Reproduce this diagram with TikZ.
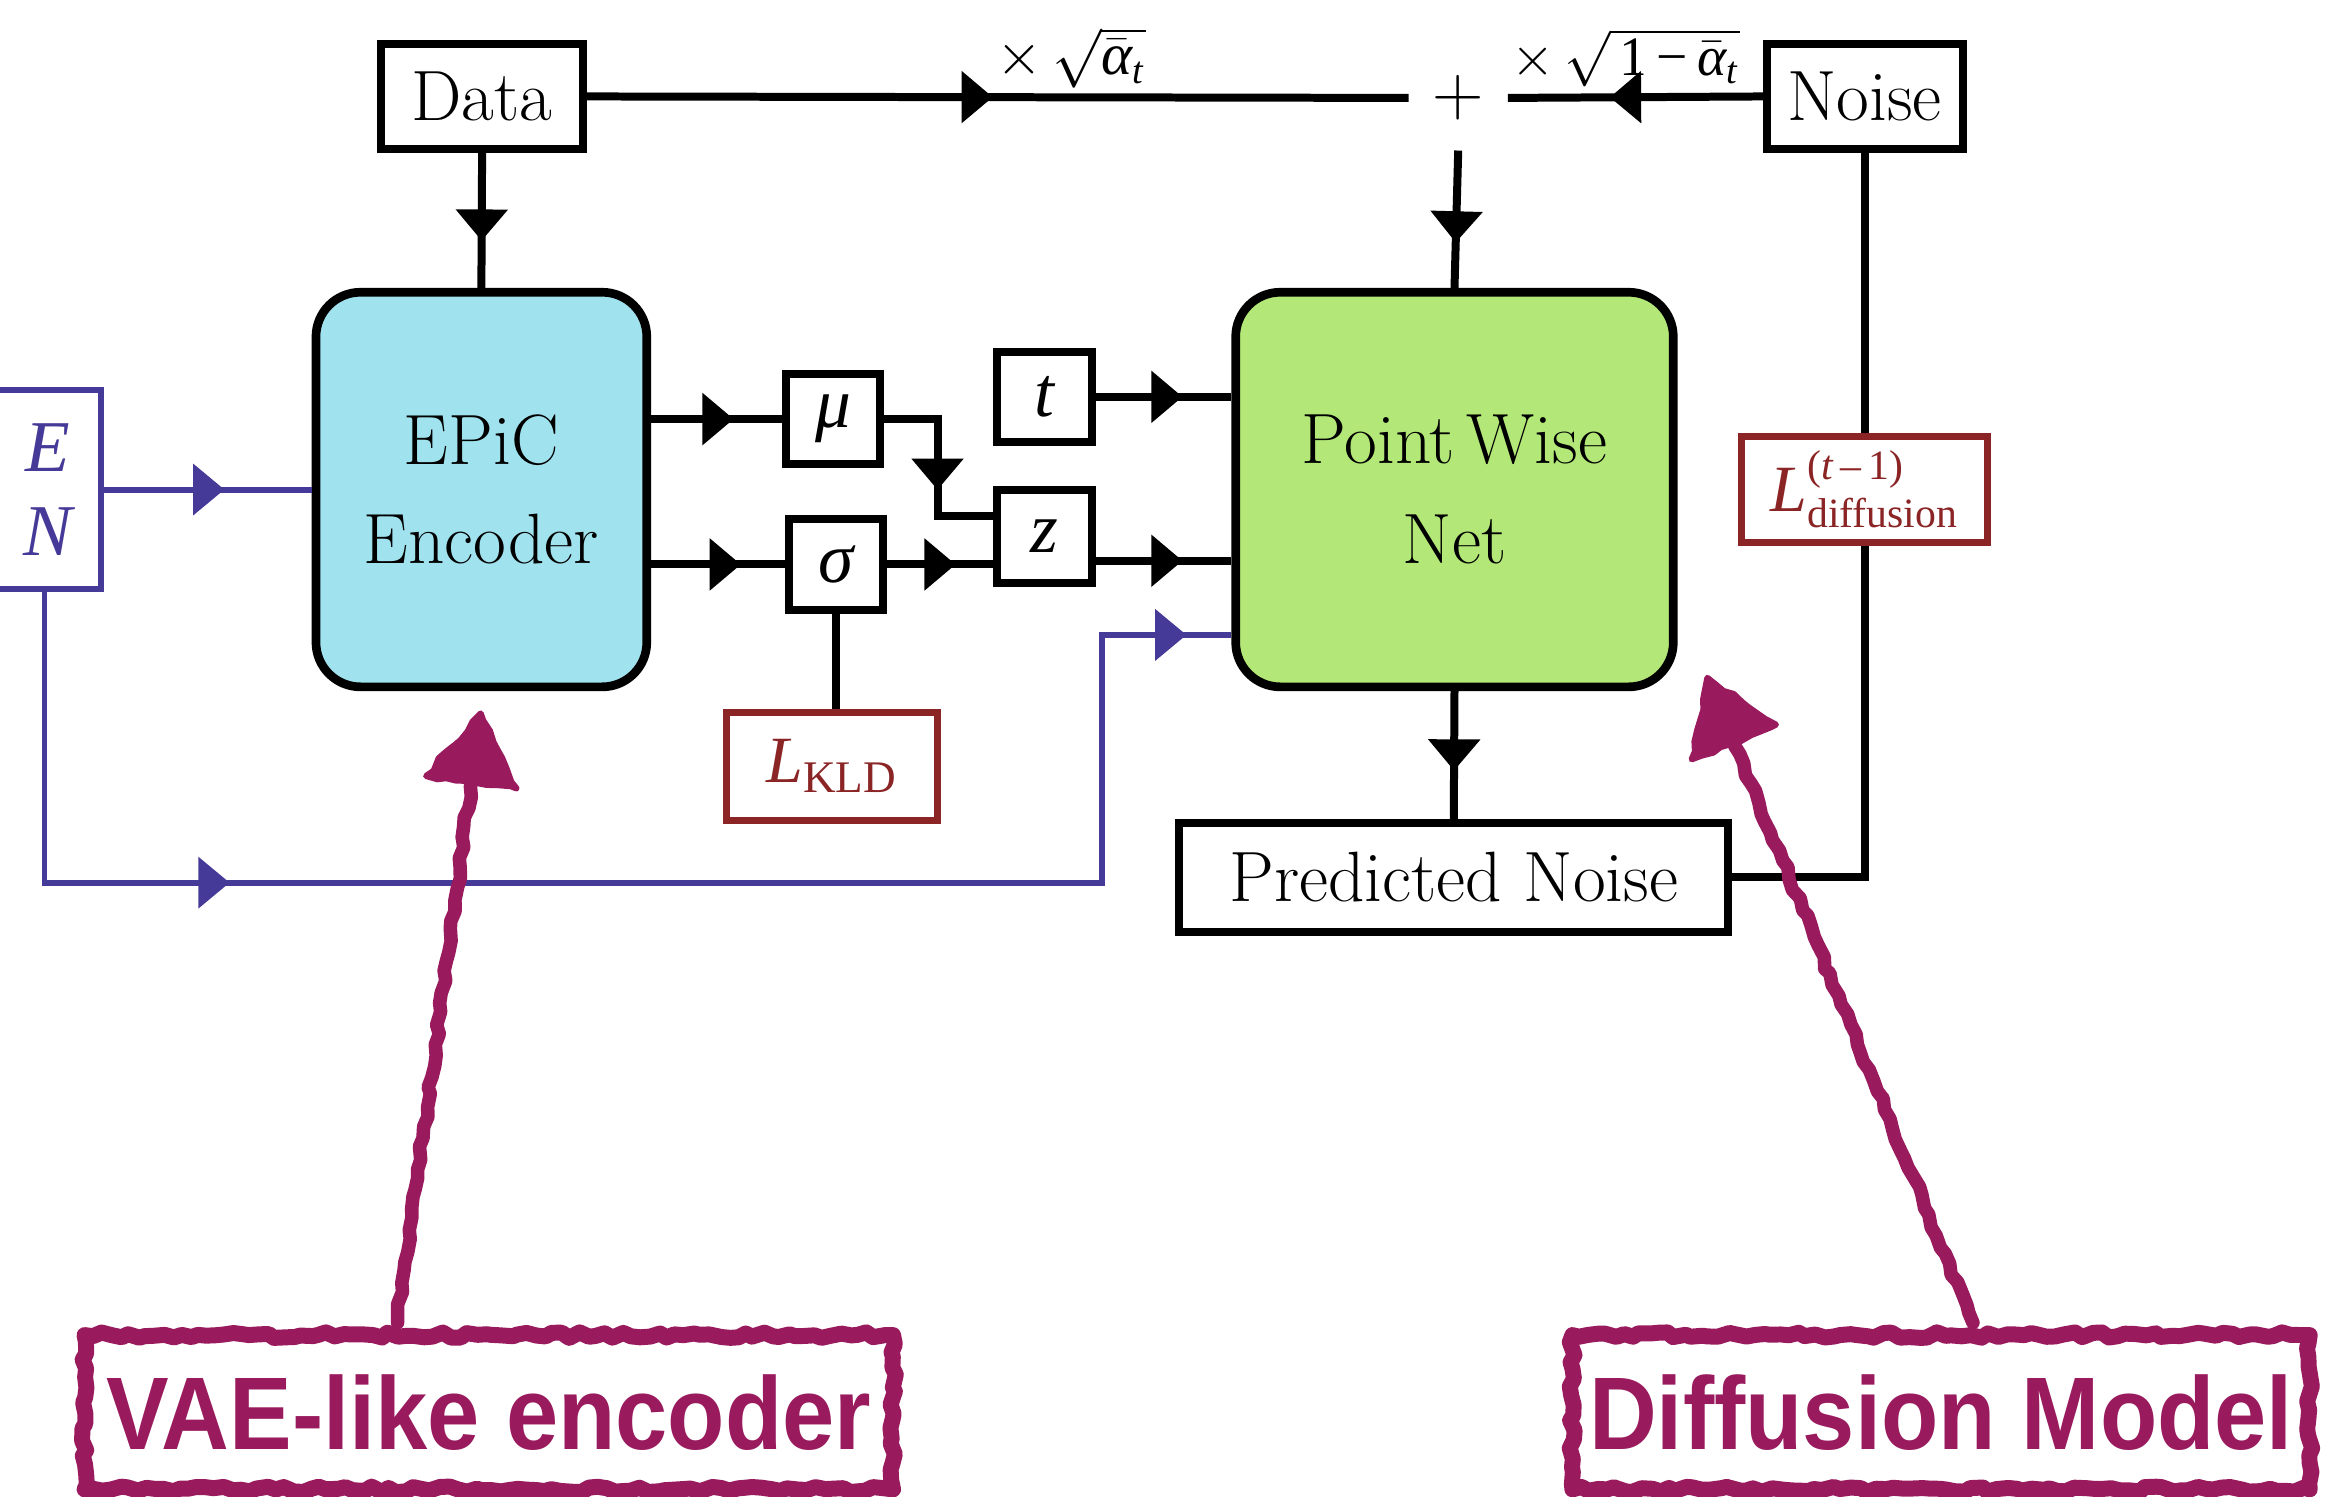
\RequirePackage{fix-cm}
\documentclass[tikz,border=0pt]{standalone}
\usepackage{amsmath}
\usepackage{fontspec}
\newfontfamily\annfont{Liberation Sans}
\newfontfamily\tms{Liberation Serif}
\usetikzlibrary{arrows.meta,decorations.markings,decorations.pathmorphing,calc}

\definecolor{encfill}{HTML}{A0E3EF}
\definecolor{netfill}{HTML}{B3E878}
\definecolor{condblue}{HTML}{463A98}
\definecolor{lossred}{HTML}{8B2525}
\definecolor{annmag}{HTML}{9A1A5E}

% italic symbols and small indices in a Times-like face
\newcommand{\sym}[1]{{\tms\itshape #1}}
\newcommand{\lil}[1]{\mbox{\fontsize{12}{12}\selectfont\tms #1}}
\newcommand{\lilx}[1]{\mbox{\fontsize{13}{13}\selectfont\tms #1}}
\newcommand{\tinyidx}[1]{\mbox{\fontsize{11}{11}\selectfont\tms #1}}

\tikzset{
  every node/.style={font=\fontsize{20.5}{28.6}\selectfont},
  sz/.style 2 args={minimum width=#1*0.015cm, minimum height=#2*0.015cm},
  blk/.style={draw, line width=2.3pt, fill=white, inner sep=0pt, align=center},
  netbox/.style={draw, line width=2.5pt, rounded corners=0.45cm, inner sep=0pt, align=center},
  lossbox/.style={draw=lossred, text=lossred, line width=2pt, fill=white, inner sep=0pt,
      font=\fontsize{19}{22}\selectfont},
  wire/.style={line width=2.3pt},
  condwire/.style={draw=condblue, line width=1.7pt},
  tipmark/.style={postaction={decorate, decoration={markings,
      mark=at position #1 with {\arrow{Triangle[length=9pt,width=14.5pt]}}}}},
  annbox/.style={draw=annmag, line width=4.6pt, fill=white, text=annmag, line join=round,
      font=\annfont\bfseries\fontsize{27}{30}\selectfont,
      decorate, decoration={random steps, segment length=2.5pt, amplitude=0.8pt}},
  scribble/.style={draw=annmag, line width=3.9pt, line cap=round, line join=round,
      decorate, decoration={random steps, segment length=3pt, amplitude=0.7pt}},
  scalelabel/.style={inner sep=0pt, font=\fontsize{17}{19}\selectfont\tms},
}

\begin{document}
\begin{tikzpicture}[x=0.015cm, y=-0.015cm]
\pgfmathsetseed{7}
\useasboundingbox (0,0) rectangle (1568,1009);

% main blocks
\node[blk, sz={136}{71}] (data) at (325,65) {Data};
\node[blk, sz={132}{71}] (noise) at (1257,65) {Noise};
\node[inner sep=0pt, sz={66}{70}] (plus) at (983,66) {$+$};
\node[netbox, fill=encfill, sz={223}{266}] (enc) at (324.5,330) {EPiC\\Encoder};
\node[netbox, fill=netfill, sz={295}{266}] (pw) at (980.5,330) {Point\,Wise\\Net};
\node[blk, sz={63}{61}] (mu) at (561.5,282.5) {\sym{μ}};
\node[blk, sz={63}{61}] (sigma) at (563.5,380.5) {\sym{σ}};
\node[blk, sz={64}{61}] (t) at (704,267.5) {\sym{t}};
\node[blk, sz={64}{63}] (z) at (704,361.5) {\sym{z}};
\node[lossbox, sz={142}{73}] (lkld) at (561,516.5)
  {$\mbox{\sym{L}}_{\lilx{KLD}}$};
\node[blk, sz={370}{73}] (pred) at (980,591.5) {Predicted Noise};
\node[lossbox, sz={166}{72}] (ldiff) at (1257,330)
  {$\mbox{\sym{L}}^{\lil{(\textit{t}\,–\,1)}}_{\lil{diffusion}}$};
\node[draw=condblue, line width=1.8pt, fill=white, text=condblue, align=center,
      inner sep=0pt, sz={71}{134}, font=\fontsize{21}{24.3}\selectfont] (en) at (32.5,330)
  {\sym{E}\\\sym{N}};

% scaling factors on the two summed inputs
\node[scalelabel] (la) at (722,39)
  {$\times$\,$\sqrt{\bar{\mbox{\sym{α}}}_{\tinyidx{\textit{t}}}}$};
\node[scalelabel, font=\fontsize{16}{18}\selectfont\tms] (lb) at (1096,39)
  {$\times$\,$\sqrt{\mbox{\,1}\,\mbox{−}\,\bar{\mbox{\sym{α}}}_{\tinyidx{\textit{t}}}}$};

% black connectors
\draw[wire, tipmark=0.494] (data.east) -- (plus.west);
\draw[wire, tipmark=0.6] (noise.west) -- (plus.east);
\draw[wire, tipmark=0.67] (plus.south) -- (pw.north);
\draw[wire, tipmark=0.65] (data.south) -- (enc.north);
\draw[wire, tipmark=0.63] (enc.east |- mu.west) -- (mu.west);
\draw[wire, tipmark=0.67] (enc.east |- sigma.west) -- (sigma.west);
\coordinate (mz) at (632,348);
\draw[wire, tipmark=1.26cm] (mu.east) -| (mz) -- (mz -| z.west);
\draw[wire, tipmark=0.65] (sigma.east) -- (sigma.east -| z.west);
\draw[wire, tipmark=0.64] (t.east) -- (t.east -| pw.west);
\draw[wire, tipmark=0.64] (z.east |- 0,378) -- (pw.west |- 0,378);
\draw[wire, tipmark=0.62] (pw.south) -- (pred.north);

% loss taps
\draw[wire] (sigma.south) -- (sigma.south |- lkld.north);
\draw[wire] (noise.south) -- (ldiff.north);
\draw[wire] (ldiff.south) |- (pred.east);

% conditioning inputs
\draw[condwire, tipmark=0.58] (en.east |- enc.west) -- (enc.west);
\coordinate (cb) at (743,595);
\draw[condwire, tipmark=4.81cm, tipmark=16.99cm]
  (en.south -| 30,0) |- (cb) |- (pw.west |- 0,428);

% hand-drawn call-outs
\node[annbox, sz={545}{104}] (vae) at (329.5,952) {\scalebox{1}[1.1]{VAE-like encoder}};
\node[annbox, sz={497}{104}] (dm) at (1308.5,952) {\scalebox{1}[1.1]{Diffusion Model}};

\coordinate (vaetip) at (324,481);
\path (vae.north) ++(-61.5,-3) coordinate (vaetail);
\coordinate (dmtip) at (1151,457);
\path (dm.north) ++(21.5,-3) coordinate (dmtail);

\draw[scribble] (vaetail) -- ($(vaetip)!0.65cm!(vaetail)$);
\filldraw[scribble, fill=annmag, line width=1.8pt]
  (vaetip) -- ($($(vaetip)!0.7cm!(vaetail)$)!0.46cm!90:(vaetip)$)
  -- ($($(vaetip)!0.7cm!(vaetail)$)!0.46cm!-90:(vaetip)$) -- cycle;

\draw[scribble] (dmtail) -- ($(dmtip)!0.65cm!(dmtail)$);
\filldraw[scribble, fill=annmag, line width=1.8pt]
  (dmtip) -- ($($(dmtip)!0.7cm!(dmtail)$)!0.46cm!90:(dmtip)$)
  -- ($($(dmtip)!0.7cm!(dmtail)$)!0.46cm!-90:(dmtip)$) -- cycle;
\end{tikzpicture}
\end{document}
